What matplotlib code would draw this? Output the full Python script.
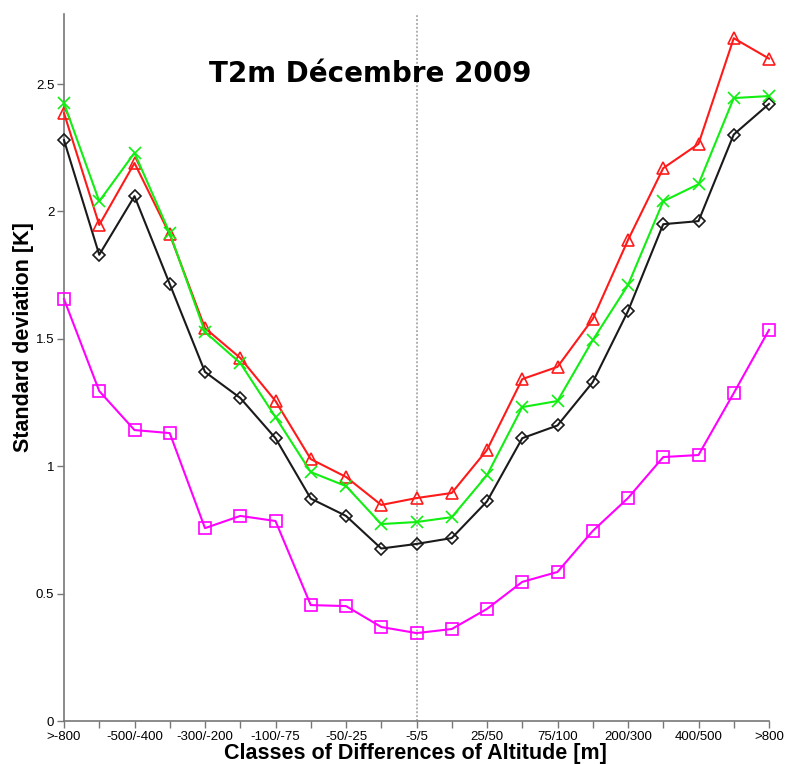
import matplotlib
matplotlib.use("Agg")
import matplotlib.pyplot as plt

# Altitude-difference classes (model minus station), in metres
classes = [">-800", "-800/-500", "-500/-400", "-400/-300", "-300/-200", "-200/-100",
           "-100/-75", "-75/-50", "-50/-25", "-25/-5", "-5/5", "5/25", "25/50",
           "50/75", "75/100", "100/200", "200/300", "300/400", "400/500",
           "500/800", ">800"]

# Standard deviation of T2m errors per class [K]
std_black = [2.28, 1.83, 2.06, 1.715, 1.37, 1.268, 1.11, 0.873, 0.805, 0.677,
             0.695, 0.718, 0.862, 1.11, 1.16, 1.33, 1.609, 1.95, 1.962, 2.302, 2.422]
std_red = [2.386, 1.947, 2.19, 1.91, 1.542, 1.425, 1.256, 1.028, 0.958, 0.848,
           0.875, 0.895, 1.064, 1.342, 1.39, 1.578, 1.888, 2.17, 2.265, 2.68, 2.60]
std_green = [2.425, 2.04, 2.23, 1.915, 1.527, 1.405, 1.193, 0.977, 0.922, 0.773,
             0.781, 0.80, 0.965, 1.232, 1.256, 1.495, 1.711, 2.04, 2.107, 2.445, 2.453]
std_magenta = [1.656, 1.295, 1.142, 1.13, 0.757, 0.805, 0.785, 0.455, 0.451, 0.369,
               0.345, 0.361, 0.44, 0.546, 0.585, 0.746, 0.875, 1.036, 1.044, 1.287, 1.535]

ytick_vals = [0, 0.5, 1, 1.5, 2, 2.5]
ytick_labels = ["0", "0.5", "1", "1.5", "2", "2.5"]

W, H = 786, 764
fig = plt.figure(figsize=(W / 100, H / 100), dpi=100)
ax = fig.add_axes([64 / W, (H - 721) / H, (769 - 64) / W, (721 - 14) / H])

x = list(range(len(classes)))

ax.axvline(classes.index("-5/5"), color="#b0b0b0", linestyle=(0, (1.0, 1.0)),
           linewidth=1.4, zorder=1)

common = dict(linewidth=1.5, markersize=8, markeredgewidth=1.2, clip_on=False)
ax.plot(x, std_black, color="#1a1a1a", marker="D", markersize=6.5,
        markerfacecolor="none", linewidth=1.5, markeredgewidth=1.2,
        clip_on=False, zorder=3)
ax.plot(x, std_magenta, color="#ff00ff", marker="s", markerfacecolor="none",
        zorder=3, **common)
ax.plot(x, std_red, color="#ff1a1a", marker="^", markerfacecolor="none",
        zorder=4, **common)
ax.plot(x, std_green, color="#11ee11", marker="x", zorder=5, **common)

ax.set_xlim(0, len(classes) - 1)
ax.set_ylim(0, 2.775)

ax.set_xticks(x)
ax.set_xticklabels([c if i % 2 == 0 else "" for i, c in enumerate(classes)],
                   fontsize=9.5, family="Liberation Sans")
ax.set_yticks(ytick_vals)
ax.set_yticklabels(ytick_labels, fontsize=9.5, family="Liberation Sans")
ax.tick_params(axis="both", direction="out", length=5, width=1, color="#777777",
               pad=2)

for side in ("top", "right"):
    ax.spines[side].set_visible(False)
for side in ("left", "bottom"):
    ax.spines[side].set_color("#777777")
    ax.spines[side].set_linewidth(1.2)

ax.set_xlabel("Classes of Differences of Altitude [m]", fontsize=15.5,
              fontweight="bold", family="Liberation Sans")
ax.xaxis.set_label_coords(0.498, -0.031)
ax.set_ylabel("Standard deviation [K]", fontsize=15.5, fontweight="bold",
              family="Liberation Sans")
ax.yaxis.set_label_coords(-0.043, 0.543)

ax.text(0.434, 0.915, "T2m Décembre 2009", transform=ax.transAxes,
        ha="center", va="center", fontsize=20, fontweight="bold",
        family="DejaVu Sans")

fig.savefig("out.png", dpi=100)
